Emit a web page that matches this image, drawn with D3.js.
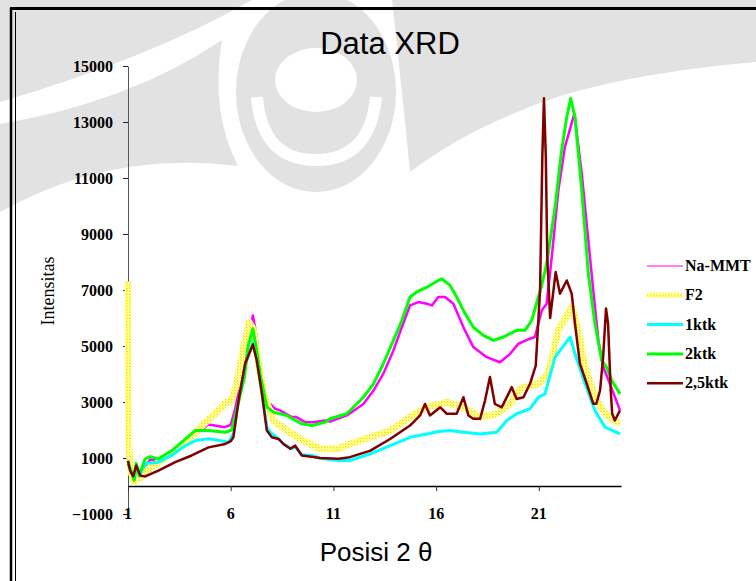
<!DOCTYPE html>
<html>
<head>
<meta charset="utf-8">
<script src="https://cdn.jsdelivr.net/npm/d3@7/dist/d3.min.js"></script>
<style>
  html, body { margin: 0; padding: 0; background: #fff; }
  svg { display: block; }
</style>
</head>
<body>
<svg id="chart" width="756" height="581"></svg>
<script>
// tick values
const xTicks = [1, 6, 11, 16, 21];
const yTicks = [-1000, 1000, 3000, 5000, 7000, 9000, 11000, 13000, 15000];

// series: [2 theta, intensity]
const naMMT = [[1, 2000], [1.15, 600], [1.3, 250], [1.4, 700], [1.55, 300], [1.8, 700], [2.1, 950], [2.5, 900],
  [3.1, 1150], [3.7, 1500], [4.3, 1850], [4.6, 2000], [4.9, 2200], [5.3, 2150], [5.7, 2100], [6.0, 2180],
  [6.2, 2700], [6.54, 3890], [6.8, 5100], [7.08, 6090], [7.25, 5400], [7.43, 4240], [7.6, 3400], [7.84, 2990],
  [8.16, 2760], [8.4, 2700], [8.97, 2460], [9.2, 2460], [9.62, 2280], [10.0, 2280], [10.6, 2340], [10.84, 2300],
  [11.65, 2520], [12.46, 2930], [12.95, 3410], [13.43, 4010], [13.92, 4840], [14.33, 5670], [14.73, 6450],
  [15.14, 6570], [15.55, 6510], [15.8, 6450], [16.1, 6750], [16.43, 6750], [16.84, 6510], [17.33, 5670],
  [17.81, 4960], [18.46, 4600], [19.11, 4420], [19.6, 4720], [20.0, 5080], [20.57, 5260], [20.81, 5320],
  [21.14, 6270], [21.38, 6510], [21.63, 8180], [21.95, 10560], [22.27, 12110], [22.73, 13300], [23.09, 11160],
  [23.41, 8770], [23.65, 6990], [23.9, 5200], [24.14, 4240], [24.46, 3650], [24.95, 2700]];

const f2 = [[1, 7300], [1.03, 1500], [1.15, 500], [1.3, 150], [1.4, 600], [1.55, 250], [1.8, 500], [2.3, 750],
  [2.97, 1100], [3.7, 1500], [4.2, 1850], [4.6, 2150], [5.24, 2580], [5.8, 2990], [6.0, 3000], [6.3, 3650],
  [6.6, 4840], [6.9, 5850], [7.1, 5600], [7.3, 4600], [7.6, 3290], [8.08, 2340], [8.73, 1980], [9.54, 1620],
  [10.35, 1330], [11.24, 1330], [11.8, 1500], [12.8, 1740], [13.76, 1980], [14.73, 2460], [15.55, 2820],
  [16.1, 2910], [16.52, 2990], [17.33, 2810], [18.14, 2460], [18.95, 2580], [19.6, 2930], [20.08, 3470],
  [20.57, 3590], [20.98, 3650], [21.46, 4010], [21.95, 5560], [22.6, 6390], [22.92, 5560], [23.25, 4240],
  [23.73, 3170], [24.22, 2580], [24.95, 2220]];

const ktk1 = [[1, 900], [1.15, 500], [1.3, 250], [1.4, 750], [1.55, 350], [1.84, 800], [2.48, 850], [3.14, 1100],
  [3.7, 1400], [4.27, 1620], [4.92, 1690], [5.5, 1620], [5.9, 1560], [6.15, 1900], [6.38, 3000], [6.7, 4300],
  [7.08, 5140], [7.27, 4500], [7.5, 3400], [7.76, 2100], [7.92, 1920], [8.3, 1700], [8.57, 1500], [8.97, 1330],
  [9.14, 1400], [9.46, 1120], [9.95, 1090], [10.35, 990], [11.24, 910], [11.8, 910], [12.8, 1150], [13.76, 1440],
  [14.73, 1740], [15.55, 1860], [16.1, 1945], [16.68, 1980], [17.33, 1920], [18.14, 1860], [18.95, 1920],
  [19.44, 2340], [19.92, 2580], [20.57, 2760], [20.98, 3170], [21.3, 3290], [21.79, 4600], [22.52, 5320],
  [22.76, 4720], [23.25, 3650], [23.73, 2700], [24.22, 2100], [24.95, 1860]];

const ktk2 = [[1, 800], [1.15, 550], [1.3, 200], [1.4, 800], [1.55, 400], [1.84, 970], [2.08, 1050], [2.48, 970],
  [3.14, 1265], [3.7, 1620], [4.27, 1980], [4.92, 1980], [5.73, 1920], [6.05, 2000], [6.2, 2460], [6.67, 3890],
  [6.85, 5000], [7.08, 5615], [7.25, 4900], [7.43, 4010], [7.76, 2820], [8.08, 2640], [8.73, 2520], [9.46, 2220],
  [9.95, 2160], [10.6, 2280], [10.84, 2400], [11.65, 2580], [12.46, 3170], [12.95, 3650], [13.43, 4365],
  [13.92, 5200], [14.33, 5910], [14.73, 6750], [15.06, 6930], [15.55, 7100], [16.1, 7340], [16.27, 7400],
  [16.68, 7165], [17.0, 6750], [17.33, 6270], [17.81, 5670], [18.3, 5380], [18.79, 5200], [19.27, 5320],
  [19.92, 5560], [20.33, 5560], [20.65, 5910], [20.98, 6750], [21.14, 7165], [21.38, 7940], [21.79, 9960],
  [22.11, 11990], [22.36, 13180], [22.55, 13840], [22.76, 13180], [23.09, 10560], [23.41, 7580], [23.73, 5800],
  [24.06, 4480], [24.3, 4240], [24.55, 3770], [24.95, 3290]];

const ktk25 = [[1, 900], [1.1, 550], [1.25, 350], [1.4, 730], [1.6, 370], [1.84, 340], [2.48, 550], [3.3, 850],
  [4.1, 1090], [4.92, 1380], [5.73, 1500], [6.0, 1600], [6.13, 1740], [6.38, 3050], [6.7, 4365], [7.08, 5055],
  [7.27, 4480], [7.5, 3410], [7.76, 1980], [8.0, 1740], [8.33, 1680], [8.57, 1500], [8.9, 1330], [9.14, 1440],
  [9.46, 1090], [10.1, 1030], [10.35, 1000], [11.24, 970], [11.8, 1030], [12.8, 1265], [13.76, 1680],
  [14.73, 2160], [15.22, 2520], [15.46, 2930], [15.7, 2520], [16.2, 2810], [16.52, 2580], [17.0, 2580],
  [17.33, 3170], [17.57, 2520], [17.81, 2400], [18.14, 2400], [18.38, 3050], [18.62, 3890], [18.86, 2930],
  [19.19, 2810], [19.52, 3290], [19.68, 3530], [19.92, 3110], [20.25, 3170], [20.57, 3650], [20.85, 4300],
  [21.06, 6990], [21.17, 11750], [21.25, 13850], [21.34, 11750], [21.41, 8180], [21.55, 6000], [21.82, 7640],
  [22.03, 6870], [22.36, 7340], [22.6, 6870], [22.76, 5800], [23.0, 4370], [23.33, 3660], [23.65, 2940],
  [23.8, 2940], [23.98, 3410], [24.13, 4600], [24.27, 6340], [24.37, 5800], [24.5, 3410], [24.57, 2590],
  [24.7, 2340], [24.95, 2700]];

const seriesNames = ['Na-MMT', 'F2', '1ktk', '2ktk', '2,5ktk'];
const seriesData = [naMMT, f2, ktk1, ktk2, ktk25];

const serif = '"Liberation Serif", "Times New Roman", serif';
const sans = '"Liberation Sans", Arial, sans-serif';

const svg = d3.select('#chart');
const defs = svg.append('defs');
// dotted yellow fill for the F2 line
const pat = defs.append('pattern')
  .attr('id', 'f2pat').attr('width', 3).attr('height', 3)
  .attr('patternUnits', 'userSpaceOnUse');
pat.append('rect').attr('width', 3).attr('height', 3).attr('fill', '#ffffe0');
pat.append('rect').attr('width', 2).attr('height', 1).attr('fill', '#ffee00');
pat.append('rect').attr('x', 1).attr('y', 1).attr('width', 2).attr('height', 1).attr('fill', '#ffff55');
pat.append('rect').attr('y', 2).attr('width', 1).attr('height', 1).attr('fill', '#ffee00');

const styles = [
  { stroke: '#ff00ff', width: 2.5, legendWidth: 1 },
  { stroke: 'url(#f2pat)', width: 7, legendWidth: 5 },
  { stroke: '#00ffff', width: 3, legendWidth: 3 },
  { stroke: '#00ff00', width: 3, legendWidth: 3 },
  { stroke: '#800000', width: 2.5, legendWidth: 2.5 },
];

// faint logo in the background
const wm = svg.append('g').attr('fill', '#e2e2e2');
wm.append('path').attr('d', 'M0,0 L252,0 Q150,58 0,102 Z');
wm.append('path').attr('d', 'M0,124 Q130,102 222,40 Q210,112 238,166 Q110,150 0,212 Z');
wm.append('ellipse').attr('cx', 316).attr('cy', 92).attr('rx', 80).attr('ry', 100);
wm.append('ellipse').attr('cx', 316).attr('cy', 80).attr('rx', 41).attr('ry', 32).attr('fill', '#fff');
wm.append('path').attr('d', 'M257,97 Q262,160 316,160 Q370,160 376,97')
  .attr('fill', 'none').attr('stroke', '#fff').attr('stroke-width', 12);
wm.append('path').attr('d', 'M392,0 L756,0 L756,62 Q640,72 560,96 Q470,126 410,172 Q402,90 392,0 Z');

const x = d3.scaleLinear().domain([1, 25]).range([128, 621]);
const y = d3.scaleLinear().domain([-1000, 15000]).range([514, 66]);

// frame
svg.append('line').attr('x1', 10).attr('x2', 756).attr('y1', 8.5).attr('y2', 8.5)
  .attr('stroke', '#000').attr('stroke-width', 3);
svg.append('line').attr('x1', 11).attr('x2', 11).attr('y1', 8).attr('y2', 581)
  .attr('stroke', '#000').attr('stroke-width', 2.5);
svg.append('line').attr('x1', 15.5).attr('x2', 15.5).attr('y1', 12).attr('y2', 581)
  .attr('stroke', '#000').attr('stroke-width', 1);

// y axis
const yAxis = svg.append('g')
  .attr('transform', `translate(${x(1)},0)`)
  .call(d3.axisLeft(y).tickValues(yTicks).tickSize(5).tickSizeOuter(0).tickPadding(10).tickFormat(d3.format('d')));
yAxis.select('.domain').attr('stroke', '#555');
yAxis.selectAll('.tick line').attr('stroke', '#222');
yAxis.selectAll('text')
  .attr('font-family', serif).attr('font-weight', 'bold').attr('font-size', 16).attr('fill', '#000');

// x axis on the zero line, labels at the bottom
const xAxis = svg.append('g')
  .attr('transform', `translate(0,${y(0)})`)
  .call(d3.axisBottom(x).tickValues(xTicks).tickSize(5).tickSizeOuter(0).tickFormat(''));
xAxis.select('.domain').attr('stroke', '#000').attr('stroke-width', 1.5);
xAxis.selectAll('.tick line').attr('stroke', '#333');

svg.append('g').selectAll('text')
  .data(xTicks)
  .join('text')
  .attr('x', d => x(d))
  .attr('y', y(-1000))
  .attr('dy', '0.32em')
  .attr('text-anchor', 'middle')
  .attr('font-family', serif).attr('font-weight', 'bold').attr('font-size', 16)
  .text(d => d);

// series
const line = d3.line().x(d => x(d[0])).y(d => y(d[1]));
svg.append('g').selectAll('path')
  .data(seriesData)
  .join('path')
  .attr('d', line)
  .attr('fill', 'none')
  .attr('stroke', (d, i) => styles[i].stroke)
  .attr('stroke-width', (d, i) => styles[i].width)
  .attr('stroke-linejoin', 'round');

// titles
svg.append('text')
  .attr('x', 390).attr('y', 54)
  .attr('text-anchor', 'middle')
  .attr('font-family', sans).attr('font-size', 31)
  .text('Data XRD');

svg.append('text')
  .attr('x', 376).attr('y', 561)
  .attr('text-anchor', 'middle')
  .attr('font-family', sans).attr('font-size', 26)
  .text('Posisi 2 \u03b8');

svg.append('text')
  .attr('transform', 'translate(54,291) rotate(-90)')
  .attr('text-anchor', 'middle')
  .attr('font-family', serif).attr('font-size', 18)
  .text('Intensitas');

// legend
const legend = svg.append('g').selectAll('g')
  .data(seriesNames)
  .join('g')
  .attr('transform', (d, i) => `translate(647,${266 + i * 29.3})`);
legend.append('line')
  .attr('x1', 0).attr('x2', 36)
  .attr('stroke', (d, i) => styles[i].stroke)
  .attr('stroke-width', (d, i) => styles[i].legendWidth);
legend.append('text')
  .attr('x', 38).attr('dy', '0.32em')
  .attr('font-family', serif).attr('font-weight', 'bold').attr('font-size', 16)
  .text(d => d);
</script>
</body>
</html>
